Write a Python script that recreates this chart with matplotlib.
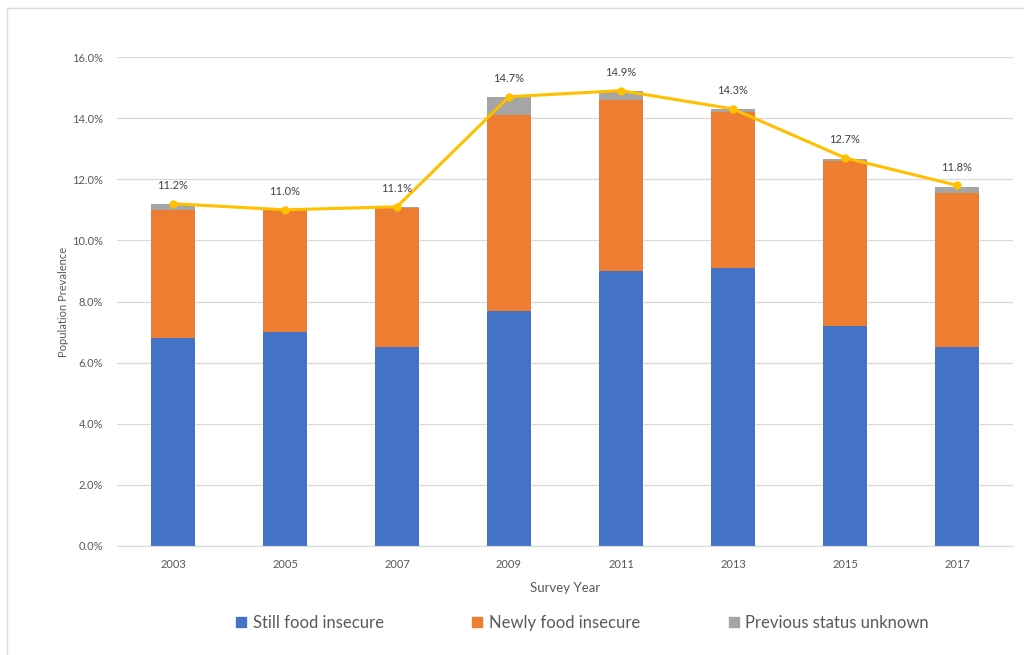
import matplotlib
matplotlib.use("Agg")
import matplotlib.pyplot as plt
from matplotlib.lines import Line2D
from matplotlib.patches import Patch
import numpy as np

years = ["2003", "2005", "2007", "2009", "2011", "2013", "2015", "2017"]
still = [6.8, 7.0, 6.5, 7.7, 9.0, 9.1, 7.2, 6.5]
newly = [4.2, 4.0, 4.55, 6.4, 5.6, 5.1, 5.4, 5.05]
unknown = [0.2, 0.0, 0.05, 0.6, 0.3, 0.1, 0.05, 0.2]
total = [11.2, 11.0, 11.1, 14.7, 14.9, 14.3, 12.7, 11.8]
yticks = [0, 2, 4, 6, 8, 10, 12, 14, 16]

plt.rcParams['font.family'] = ['Lato', 'DejaVu Sans']

fig = plt.figure(figsize=(10.24, 6.55), dpi=100)
ax = fig.add_axes([117/1024, 1-546/655, 896/1024, 489/655])

x = np.arange(len(years))
w = 0.4
c_blue, c_orange, c_gray, c_line = "#4472C4", "#ED7D31", "#A5A5A5", "#FFC000"
ax.bar(x, still, w, color=c_blue, zorder=2)
ax.bar(x, newly, w, bottom=still, color=c_orange, zorder=2)
bot2 = [a + b for a, b in zip(still, newly)]
ax.bar(x, unknown, w, bottom=bot2, color=c_gray, zorder=2)
ax.plot(x, total, color=c_line, lw=2.2, marker='o', ms=5, zorder=3)
for xi, t in zip(x, total):
    ax.annotate(f"{t:.1f}%", (xi, t), xytext=(0, 9), textcoords='offset points',
                ha='center', va='bottom', fontsize=8, color='#404040')

ax.set_xlim(-0.5, len(years) - 0.5)
ax.set_ylim(0, 16)
ax.set_yticks(yticks)
ax.set_yticklabels([f"{v:.1f}%" for v in yticks])
ax.set_xticks(x)
ax.set_xticklabels(years)
ax.tick_params(axis='both', length=0, labelsize=8, labelcolor='#595959')
ax.tick_params(axis='y', pad=10)
ax.tick_params(axis='x', pad=9)
ax.grid(axis='y', color='#D9D9D9', lw=0.9, zorder=0)
ax.set_axisbelow(True)
for s in ['top', 'right', 'left']:
    ax.spines[s].set_visible(False)
ax.spines['bottom'].set_color('#D9D9D9')
ax.set_ylabel("Population Prevalence", fontsize=8, color='#595959', labelpad=2)
ax.set_xlabel("Survey Year", fontsize=9.5, color='#595959', labelpad=9)

handles = [Patch(color=c_blue), Patch(color=c_orange), Patch(color=c_gray)]
labels = ["Still food insecure", "Newly food insecure", "Previous status unknown"]
fig.legend(handles, labels, loc='center', bbox_to_anchor=(0.569, 1-623/655), ncol=3,
           frameon=False, fontsize=12, handlelength=0.6, handleheight=0.6,
           columnspacing=5.3, handletextpad=0.4, labelcolor='#595959')

fig.add_artist(Line2D([7/1024, 7/1024, 1.0], [0, 1-8/655, 1-8/655],
                      transform=fig.transFigure, color='#D9D9D9', lw=1))

fig.savefig("out.png", dpi=100)
